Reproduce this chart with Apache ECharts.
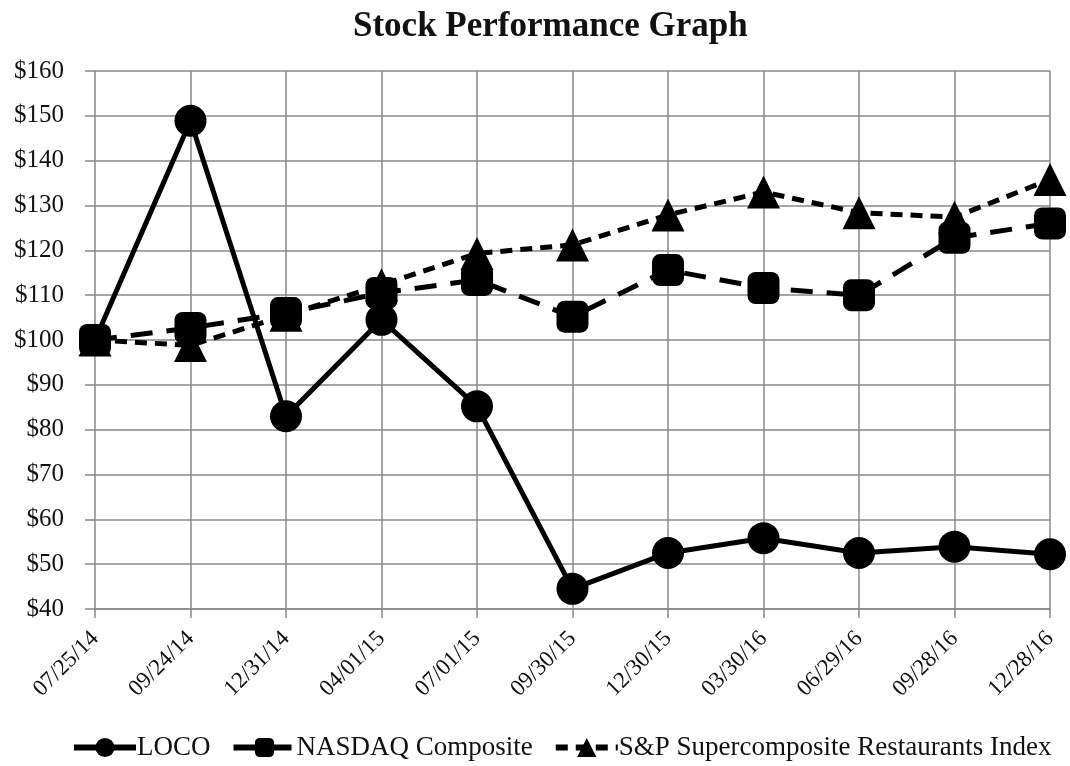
<!DOCTYPE html>
<html>
<head>
<meta charset="utf-8">
<script src="https://cdn.jsdelivr.net/npm/echarts@6/dist/echarts.min.js"></script>
<style>html,body{margin:0;padding:0;background:#fff}#c{width:1070px;height:766px}</style>
</head>
<body>
<div id="c"></div>
<script>
var categories = ['07/25/14','09/24/14','12/31/14','04/01/15','07/01/15','09/30/15','12/30/15','03/30/16','06/29/16','09/28/16','12/28/16'];
var loco = [100, 148.9, 83.0, 104.5, 85.2, 44.5, 52.5, 55.8, 52.5, 53.9, 52.2];
var nasdaq = [100, 102.7, 106.0, 110.5, 113.4, 105.2, 115.6, 111.6, 110.0, 122.8, 126.0];
var sp = [100, 98.8, 105.5, 112.3, 119.3, 121.2, 127.9, 133.0, 128.4, 127.4, 135.8];
var yTicks = {min: 40, max: 160, interval: 10};

var font = 'Liberation Serif, Times New Roman, serif';
var chart = echarts.init(document.getElementById('c'));
chart.setOption({
  animation: false,
  backgroundColor: '#fff',
  title: {text: 'Stock Performance Graph', left: 348, top: 4,
    textStyle: {fontFamily: font, fontSize: 35, fontWeight: 'bold', color: '#111'}},
  grid: {left: 95, right: 20, top: 71, bottom: 157},
  legend: {bottom: 0, left: 66, itemWidth: 62, itemHeight: 24, itemGap: 20,
    lineStyle: {width: 6},
    textStyle: {fontFamily: font, fontSize: 27, color: '#111', padding: [0, 0, 0, -4]},
    data: ['LOCO', 'NASDAQ Composite', 'S&P Supercomposite Restaurants Index']},
  xAxis: {type: 'category', data: categories, boundaryGap: false,
    axisLine: {lineStyle: {color: '#888', width: 1.5}},
    axisTick: {show: true, length: 9, lineStyle: {color: '#888', width: 1.5}},
    splitLine: {show: true, lineStyle: {color: '#888', width: 1.5}},
    axisLabel: {rotate: 45, fontFamily: font, fontSize: 23, color: '#111', margin: 26}},
  yAxis: {type: 'value', min: yTicks.min, max: yTicks.max, interval: yTicks.interval,
    axisLine: {show: false},
    axisTick: {show: true, length: 10, lineStyle: {color: '#888', width: 1.5}},
    splitLine: {lineStyle: {color: '#888', width: 1.5}},
    axisLabel: {formatter: '${value}', fontFamily: font, fontSize: 25, color: '#111', margin: 31}},
  series: [
    {name: 'LOCO', type: 'line', data: loco, symbol: 'circle', symbolSize: 32,
      lineStyle: {color: '#000', width: 5}, itemStyle: {color: '#000'}, z: 3},
    {name: 'NASDAQ Composite', type: 'line', data: nasdaq, symbol: 'roundRect', symbolSize: 32,
      lineStyle: {color: '#000', width: 5, type: [22, 14]}, itemStyle: {color: '#000'}, z: 4},
    {name: 'S&P Supercomposite Restaurants Index', type: 'line', data: sp, symbol: 'triangle', symbolSize: 33,
      lineStyle: {color: '#000', width: 5, type: [12, 8]}, itemStyle: {color: '#000'}, z: 2}
  ]
});
</script>
</body>
</html>
